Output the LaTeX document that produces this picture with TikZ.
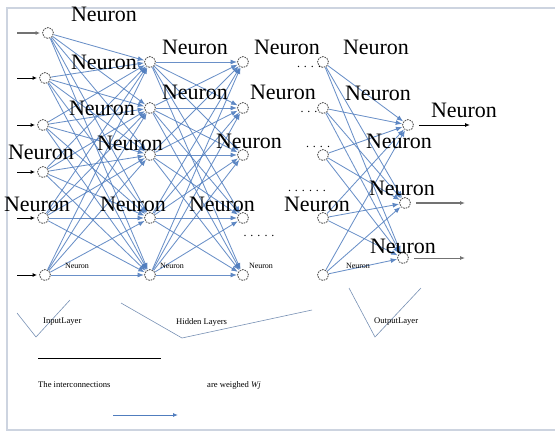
\documentclass[tikz,border=0pt]{standalone}
\usepackage{fontspec}
\setmainfont{Liberation Serif}
\usetikzlibrary{arrows.meta}
\definecolor{conn}{RGB}{80,125,190}
\definecolor{framec}{RGB}{205,212,224}
\definecolor{brk}{RGB}{120,145,180}
\begin{document}
\begin{tikzpicture}[x=1pt,y=-1pt,
  neuron/.style={circle,draw=black!65,dash pattern=on 1.6pt off 1pt,line width=0.9pt,minimum size=11pt,inner sep=0pt,fill=white},
  link/.style={draw=conn,line width=0.85pt,opacity=0.85,-{Latex[length=6.5pt,width=5pt]}},
  inarrow/.style={draw=black,line width=0.9pt,-{Latex[length=4.5pt,width=4pt]},shorten >=2pt},
  outarrow/.style={line width=0.9pt,-{Latex[length=5pt,width=4pt]},shorten <=5pt},
  big/.style={font=\fontsize{22}{22}\selectfont,inner sep=0pt},
  tiny/.style={font=\fontsize{8}{8}\selectfont,inner sep=0pt},
  small/.style={font=\fontsize{8.6}{9}\selectfont,inner sep=0pt,anchor=west},
  dots/.style={font=\fontsize{12}{12}\selectfont,inner sep=0pt}]
\useasboundingbox (0,0) rectangle (555,432);
% frame
\draw[framec,line width=1.4pt] (555,8) -- (7,8) -- (7,430) -- (555,430);
% input layer
\node[neuron] (i1) at (48,33) {};
\node[neuron] (i2) at (45,78) {};
\node[neuron] (i3) at (43,125) {};
\node[neuron] (i4) at (43,172) {};
\node[neuron] (i5) at (43,218) {};
\node[neuron] (i6) at (45,275) {};
% hidden layers
\foreach \y [count=\k] in {62,108,155,218,275} {
  \node[neuron] (h\k) at (150,\y) {};
  \node[neuron] (g\k) at (243,\y) {};
  \node[neuron] (f\k) at (323,\y) {};
}
% output layer
\node[neuron] (o1) at (408,125) {};
\node[neuron] (o2) at (405,203) {};
\node[neuron] (o3) at (403,258) {};
% connections
\foreach \i in {1,...,6} \foreach \j in {1,...,5} \draw[link] (i\i) -- (h\j);
\foreach \i in {1,...,5} \foreach \j in {1,...,5} \draw[link] (h\i) -- (g\j);
\foreach \i in {1,...,5} \foreach \j in {1,...,3} \draw[link] (f\i) -- (o\j);
% input arrows
\foreach \k/\y in {1/33,2/78,3/125,4/172,5/218,6/275} {
  \coordinate (ia\k) at (17,\y);
}
\draw[inarrow,draw=black!55,line width=1.4pt] (ia1) -- (i1);
\foreach \k in {2,...,6} \draw[inarrow] (ia\k) -- (i\k);
% output arrows
\coordinate (oa1) at (470,125);
\coordinate (oa2) at (465,203);
\coordinate (oa3) at (465,258);
\draw[outarrow,black] (o1) -- (oa1);
\draw[outarrow,black!55,line width=1.2pt] (o2) -- (oa2);
\draw[outarrow,black!55] (o3) -- (oa3);
% dots
\node[dots] (d1) at (309,67) {. . . .};
\node[dots] (d2) at (309,112) {. . .};
\node[dots] (d3) at (318,147) {. . . .};
\node[dots] (d4) at (307,191) {. . . . . .};
\node[dots] (d5) at (259,236) {. . . . .};
% Neuron labels
\node[big] (n1) at (104,14) {Neuron};
\node[big] (n2) at (195,47) {Neuron};
\node[big] (n3) at (287,47) {Neuron};
\node[big] (n4) at (376,47) {Neuron};
\node[big] (n5) at (104,62) {Neuron};
\node[big] (n6) at (195,92) {Neuron};
\node[big] (n7) at (283,92) {Neuron};
\node[big] (n8) at (378,93) {Neuron};
\node[big] (n9) at (102,108) {Neuron};
\node[big] (n10) at (464,110) {Neuron};
\node[big] (n11) at (130,143) {Neuron};
\node[big] (n12) at (249,141) {Neuron};
\node[big] (n13) at (399,141) {Neuron};
\node[big] (n14) at (41,152) {Neuron};
\node[big] (n15) at (402,188) {Neuron};
\node[big] (n16) at (37,204) {Neuron};
\node[big] (n17) at (133,204) {Neuron};
\node[big] (n18) at (222,204) {Neuron};
\node[big] (n19) at (317,204) {Neuron};
\node[big] (n20) at (403,246) {Neuron};
\node[tiny] (s1) at (77,266) {Neuron};
\node[tiny] (s2) at (172,266) {Neuron};
\node[tiny] (s3) at (261,266) {Neuron};
\node[tiny] (s4) at (358,266) {Neuron};
% brackets
\draw[brk,line width=0.6pt] (17,313) -- (36,337) -- (70,300);
\draw[brk,line width=0.6pt] (121,303) -- (182,338) -- (312,310);
\draw[brk,line width=0.6pt] (349,288) -- (375,337) -- (421,288);
\node[small] (l1) at (43,322) {InputLayer};
\node[small] (l2) at (176,322) {Hidden Layers};
\node[small] (l3) at (374,322) {OutputLayer};
% legend
\coordinate (r1) at (38,358);
\coordinate (r2) at (161,358);
\draw[black,line width=0.5pt] (r1) -- (r2);
\node[small] (t1) at (38,385) {The interconnections};
\node[small] (t2) at (207,385) {are weighed \textit{Wj}};
\coordinate (a1) at (113,415);
\coordinate (a2) at (178,415);
\draw[conn,line width=0.9pt,-{Latex[length=5pt,width=4pt]}] (a1) -- (a2);
\end{tikzpicture}
\end{document}
